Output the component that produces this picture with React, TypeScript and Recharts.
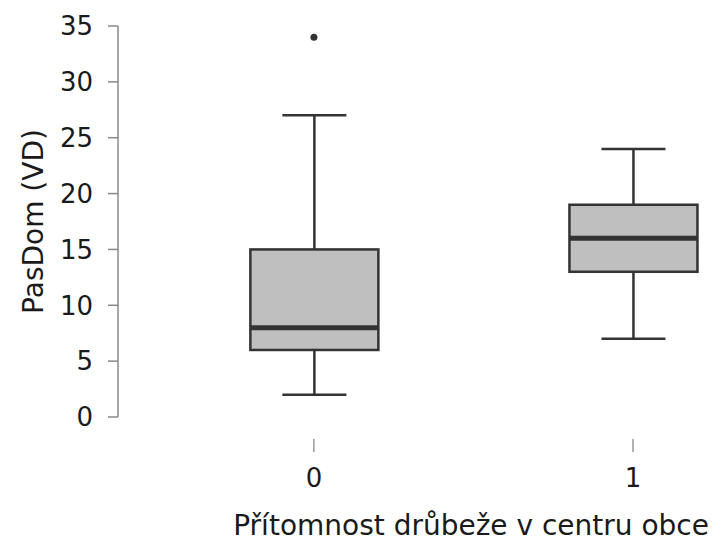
import React from "react";
import { ComposedChart, Bar, Scatter, XAxis, YAxis, Label } from "recharts";

const groups = [0, 1];
const lowWhisker = [2, 7];
const q1 = [6, 13];
const median = [8, 16];
const q3 = [15, 19];
const highWhisker = [27, 24];
const outlierGroups = [0];
const outlierValues = [34];
const yTicks = [0, 5, 10, 15, 20, 25, 30, 35];

const boxData = groups.map((g, i) => ({
  group: g,
  whiskers: [lowWhisker[i], highWhisker[i]],
  q1: q1[i],
  median: median[i],
  q3: q3[i],
}));
const outlierData = outlierGroups.map((g, i) => ({ group: g, value: outlierValues[i] }));

const FONT = "'DejaVu Sans', sans-serif";
const INK = "#333333";
const TEXT = "#1a1a1a";

function BoxShape(props: any) {
  const { x, y, width, height } = props;
  const p = props.payload ?? props;
  const [lo, hi] = p.whiskers;
  const top = Math.min(y, y + height);
  const bottom = Math.max(y, y + height);
  // map a value onto the same pixel scale as the whisker range
  const yOf = (v: number) => bottom - ((v - lo) * (bottom - top)) / (hi - lo);
  const cx = x + width / 2;
  const cap = width / 4;
  return (
    <g>
      <line x1={cx} x2={cx} y1={yOf(hi)} y2={yOf(p.q3)} stroke={INK} strokeWidth={2.5} />
      <line x1={cx} x2={cx} y1={yOf(p.q1)} y2={yOf(lo)} stroke={INK} strokeWidth={2.5} />
      <line x1={cx - cap} x2={cx + cap} y1={yOf(hi)} y2={yOf(hi)} stroke={INK} strokeWidth={2.5} />
      <line x1={cx - cap} x2={cx + cap} y1={yOf(lo)} y2={yOf(lo)} stroke={INK} strokeWidth={2.5} />
      <rect
        x={x}
        y={yOf(p.q3)}
        width={width}
        height={yOf(p.q1) - yOf(p.q3)}
        fill="#bfbfbf"
        stroke={INK}
        strokeWidth={2.5}
      />
      <line x1={x} x2={x + width} y1={yOf(p.median)} y2={yOf(p.median)} stroke={INK} strokeWidth={5} />
    </g>
  );
}

function XTick(props: any) {
  const { x, y, payload } = props;
  return (
    <g>
      <line x1={x} x2={x} y1={y + 22} y2={y + 35} stroke="#666" strokeWidth={1} />
      <text x={x} y={y + 70} textAnchor="middle" fontFamily={FONT} fontSize={26} fill={TEXT}>
        {payload.value}
      </text>
    </g>
  );
}

export default function App() {
  return (
    <div style={{ position: "absolute", left: 0, top: 0 }}>
      <ComposedChart
        width={715}
        height={542}
        data={boxData}
        margin={{ top: 26, right: 0, bottom: 0, left: 0 }}
      >
        <XAxis
          dataKey="group"
          type="number"
          domain={[-0.614, 1.257]}
          ticks={groups}
          allowDataOverflow
          axisLine={false}
          tickLine={false}
          tickSize={0}
          tickMargin={0}
          height={125}
          tick={<XTick />}
        >
          <Label
            content={() => (
              <text x={709} y={535} textAnchor="end" fontFamily={FONT} fontSize={28} fill={TEXT}>
                Přítomnost drůbeže v centru obce
              </text>
            )}
          />
        </XAxis>
        <YAxis
          type="number"
          domain={[0, 35]}
          ticks={yTicks}
          width={118}
          tickSize={10}
          tickMargin={15}
          axisLine={{ stroke: "#888", strokeWidth: 1.5 }}
          tickLine={{ stroke: "#888", strokeWidth: 1.5 }}
          tick={{ fontFamily: FONT, fontSize: 26, fill: TEXT }}
        >
          <Label
            content={({ viewBox }: any) => {
              const cy = viewBox.y + viewBox.height / 2;
              return (
                <text
                  x={43}
                  y={cy}
                  transform={`rotate(-90 43 ${cy})`}
                  textAnchor="middle"
                  fontFamily={FONT}
                  fontSize={28}
                  fill={TEXT}
                >
                  PasDom (VD)
                </text>
              );
            }}
          />
        </YAxis>
        <Bar dataKey="whiskers" barSize={128} shape={<BoxShape />} isAnimationActive={false} />
        <Scatter
          data={outlierData}
          dataKey="value"
          fill={INK}
          shape={(p: any) => <circle cx={p.cx} cy={p.cy} r={3.5} fill={INK} />}
          isAnimationActive={false}
        />
      </ComposedChart>
    </div>
  );
}
